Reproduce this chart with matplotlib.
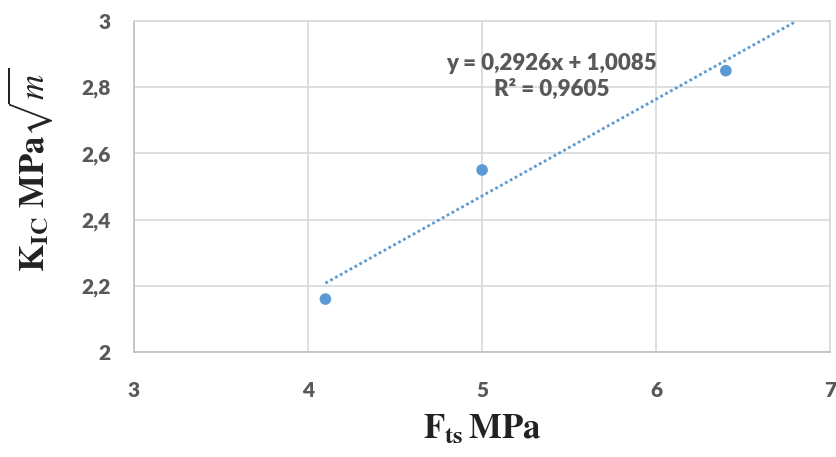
import matplotlib
matplotlib.use("Agg")
import matplotlib.pyplot as plt
import numpy as np

fts = [4.1, 5.0, 6.4]
kic = [2.16, 2.55, 2.85]
slope = 0.2926
intercept = 1.0085
eq_text = "y = 0,2926x + 1,0085"
r2_text = "R² = 0,9605"
xticks = [3, 4, 5, 6, 7]
yticks = [2.0, 2.2, 2.4, 2.6, 2.8, 3.0]
ytick_labels = ["2", "2,2", "2,4", "2,6", "2,8", "3"]

plt.rcParams['mathtext.fontset'] = 'stix'

fig = plt.figure(figsize=(8.37, 4.57), dpi=100)
ax = fig.add_axes([0.160, 0.2297, 0.832, 0.7243])

blue = '#5B9BD5'
grey = '#595959'
gridc = '#D9D9D9'

ax.set_xlim(3, 7)
ax.set_ylim(2, 3)
ax.set_xticks(xticks)
ax.set_xticklabels([str(t) for t in xticks])
ax.set_yticks(yticks)
ax.set_yticklabels(ytick_labels)
ax.grid(True, color=gridc, linewidth=1.2)
ax.set_axisbelow(True)
for s in ax.spines.values():
    s.set_color(gridc)
    s.set_linewidth(1.2)
ax.spines['left'].set_color('#BFBFBF')
ax.spines['bottom'].set_color('#BFBFBF')
ax.tick_params(length=0)
ax.tick_params(axis='x', pad=21)
ax.tick_params(axis='y', pad=17)
for lab in ax.get_xticklabels() + ax.get_yticklabels():
    lab.set_fontfamily('Lato')
    lab.set_fontweight('heavy')
    lab.set_fontsize(15)
    lab.set_color(grey)

# trendline
x_end = (3 - intercept) / slope
xt = np.linspace(min(fts), x_end, 50)
ax.plot(xt, slope * xt + intercept, linestyle=(0, (1, 1)), color=blue, linewidth=2, clip_on=False, zorder=2)
ax.scatter(fts, kic, s=70, color=blue, zorder=3, edgecolors='none')

ax.text(5.40, 2.873, eq_text, ha='center', va='center', fontsize=16, fontweight='heavy',
        color=grey, family='Lato')
ax.text(5.40, 2.795, r2_text, ha='center', va='center', fontsize=16, fontweight='heavy',
        color=grey, family='Lato')

ax.set_xlabel(r'$\mathbf{F_{ts}\,MPa}$', fontsize=25, labelpad=8, color='#222222')
ax.set_ylabel(r'$\mathbf{K}_{\mathbf{IC}}\ \mathbf{MPa}\sqrt{m}$', fontsize=25, color='#222222')
ax.yaxis.set_label_coords(-0.114, 0.55)

fig.savefig('out.png', dpi=100)
